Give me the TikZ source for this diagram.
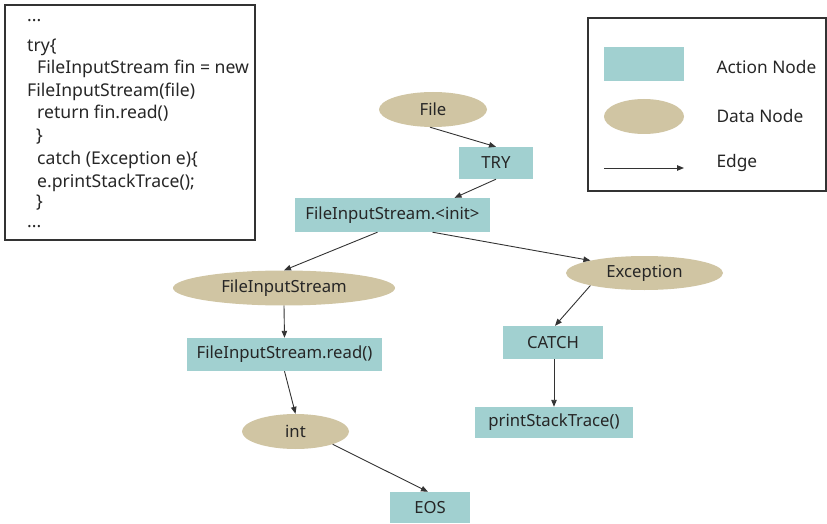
\documentclass[tikz,border=0pt]{standalone}
\usepackage{fontspec}
\setmainfont{Noto Sans}
\usetikzlibrary{shapes.geometric,arrows.meta}
\definecolor{actionfill}{HTML}{A1D0D0}
\definecolor{datafill}{HTML}{D0C5A3}
\definecolor{ink}{HTML}{262626}
\definecolor{linegray}{HTML}{333333}
\tikzset{
  actionnode/.style={rectangle, fill=actionfill, inner sep=0pt, text=ink,
    font=\fontsize{16.7}{20}\selectfont},
  datanode/.style={ellipse, fill=datafill, inner sep=0pt, text=ink,
    font=\fontsize{16.7}{20}\selectfont},
  edge/.style={draw=linegray, line width=0.9pt,
    -{Triangle[length=7pt,width=5.5pt]}},
  framebox/.style={draw=linegray, line width=1.4pt},
  codeline/.style={anchor=base west, inner sep=0pt, text=ink,
    font=\fontsize{17.6}{20}\selectfont},
  legendtext/.style={anchor=west, text=ink, font=\fontsize{17.3}{20}\selectfont},
}
\begin{document}
\begin{tikzpicture}[x=1pt,y=-1pt]
\useasboundingbox (0,0) rectangle (827,524);

% source snippet
\draw[framebox] (5,5) rectangle (255,240);
\node[codeline] (code1)  at (27,22)    {...};
\node[codeline] (code2)  at (27,51.5)  {try\{};
\node[codeline] (code3)  at (37,74)    {FileInputStream fin = new};
\node[codeline] (code4)  at (27,96.5)  {FileInputStream(file)};
\node[codeline] (code5)  at (37,119)   {return fin.read()};
\node[codeline] (code6)  at (36,141.5) {\}};
\node[codeline] (code7)  at (37,164.5) {catch (Exception e)\{};
\node[codeline] (code8)  at (37,187)   {e.printStackTrace();};
\node[codeline] (code9)  at (36,207.5) {\}};
\node[codeline] (code10) at (27,227)   {...};

% legend
\draw[framebox] (588,18) rectangle (826,191);
\node[actionnode, minimum width=80pt, minimum height=34pt] (lgact) at (644,64) {};
\node[datanode, minimum width=80pt, minimum height=35pt] (lgdata) at (644,116.5) {};
\coordinate (lgedgea) at (604,168);
\coordinate (lgedgeb) at (684,168);
\draw[edge] (lgedgea) -- (lgedgeb);
\node[legendtext] (lgacttxt) at (713,67) {Action Node};
\node[legendtext] (lgdatatxt) at (713,116) {Data Node};
\node[legendtext] (lgedgetxt) at (713,163.5) {Edge};

% graph nodes
\node[datanode, minimum width=108pt, minimum height=35pt] (file) at (433,109.5) {File};
\node[actionnode, minimum width=74pt, minimum height=32pt] (try) at (496,163) {TRY};
\node[actionnode, minimum width=195pt, minimum height=34pt] (init) at (392.5,215) {FileInputStream.<init>};
\node[datanode, minimum width=222pt, minimum height=35pt] (fis) at (284,288) {FileInputStream};
\node[actionnode, minimum width=195pt, minimum height=33pt] (read) at (284.5,354.5) {FileInputStream.read()};
\node[datanode, minimum width=157pt, minimum height=34pt] (exc) at (644.5,273) {Exception};
\node[actionnode, minimum width=100pt, minimum height=33pt] (catch) at (553,342.5) {CATCH};
\node[actionnode, minimum width=158pt, minimum height=31pt] (print) at (554,422.5) {printStackTrace()};
\node[datanode, minimum width=107pt, minimum height=35pt] (int) at (295.5,431.5) {int};
\node[actionnode, minimum width=80pt, minimum height=31pt] (eos) at (430,507.5) {EOS};

% edges
\draw[edge] ([xshift=-3pt]file.south) -- (try.north);
\draw[edge] (try.south) -- ([xshift=62pt]init.north);
\draw[edge] ([xshift=-15pt]init.south) -- (fis.north);
\draw[edge] ([xshift=40pt]init.south) -- (exc.167);
\draw[edge] (fis.south) -- (read.north);
\draw[edge] (exc.193) -- ([xshift=2pt]catch.north);
\draw[edge] ([xshift=1pt]catch.south) -- (print.north);
\draw[edge] (read.south) -- (int.north);
\draw[edge] (int.-19) -- ([xshift=-2pt]eos.north);
\end{tikzpicture}
\end{document}
